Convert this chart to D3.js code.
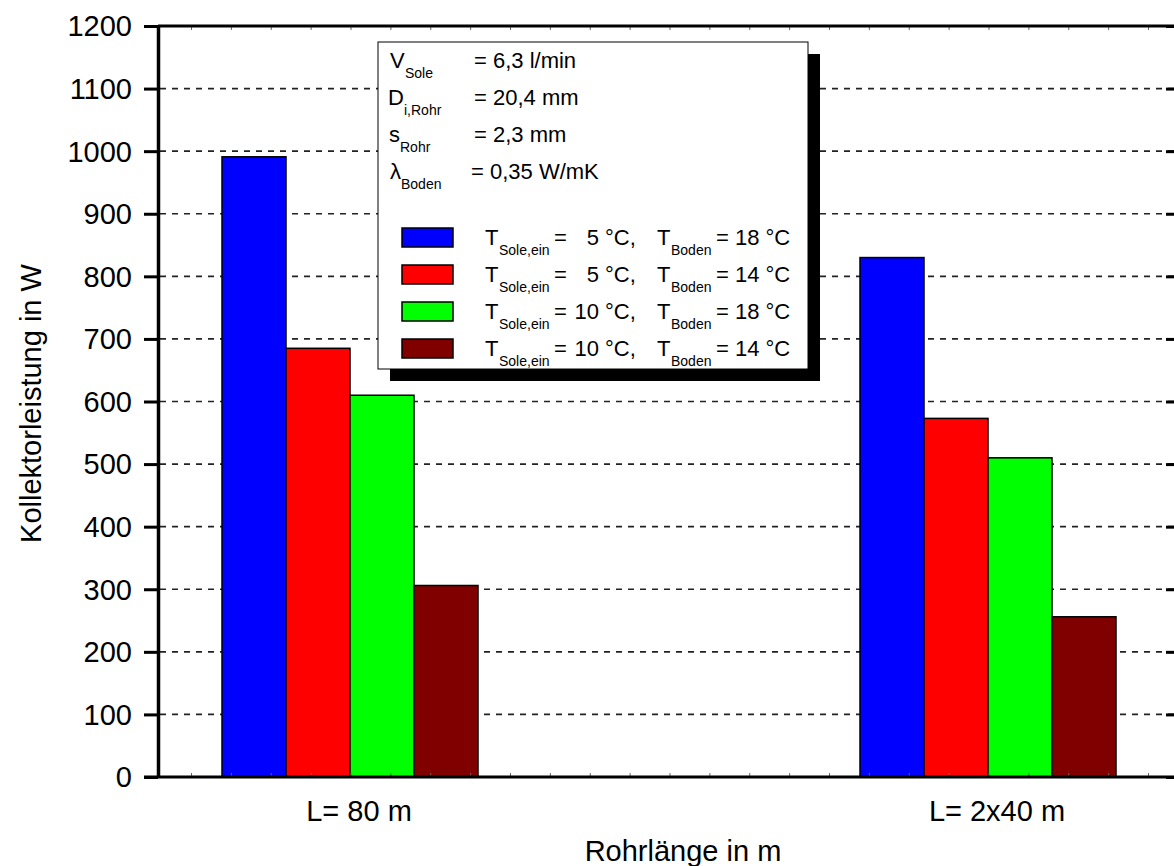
<!DOCTYPE html>
<html>
<head>
<meta charset="utf-8">
<script src="https://cdn.jsdelivr.net/npm/d3@7"></script>
<style>
  html, body { margin: 0; padding: 0; background: #fff; }
  svg { display: block; font-family: "Liberation Sans", Arial, Helvetica, sans-serif; }
</style>
</head>
<body>
<svg id="chart" width="1174" height="866"></svg>
<script>
// ---------------- data ----------------
const categories = ["L= 80 m", "L= 2x40 m"];
const seriesKeys = ["s5_18", "s5_14", "s10_18", "s10_14"];
const seriesColors = ["#0000ff", "#ff0000", "#00ff00", "#800000"];
const tSoleEin = ["5", "5", "10", "10"];
const tBoden = ["18", "14", "18", "14"];
const valuesL80 = [991, 685, 610, 306];
const valuesL2x40 = [830, 573, 510, 256];
const yTickValues = [0, 100, 200, 300, 400, 500, 600, 700, 800, 900, 1000, 1100, 1200];
const gridValues = [100, 200, 300, 400, 500, 600, 700, 800, 900, 1000, 1100];
const paramLabels = [
  { main: "V", sub: "Sole", text: "= 6,3 l/min" },
  { main: "D", sub: "i,Rohr", text: "= 20,4 mm" },
  { main: "s", sub: "Rohr", text: "= 2,3 mm" },
  { main: "\u03BB", sub: "Boden", text: "= 0,35 W/mK" }
];
const yAxisTitle = "Kollektorleistung in W";
const xAxisTitle = "Rohrlänge in m";

const table = categories.map((c, i) => ({
  category: c,
  values: (i === 0 ? valuesL80 : valuesL2x40).map((v, j) => ({ key: seriesKeys[j], value: v, color: seriesColors[j] }))
}));

// ---------------- layout ----------------
const plot = { left: 158, right: 1181, top: 26, bottom: 777 };
const svg = d3.select("#chart");

const y = d3.scaleLinear().domain([0, 1200]).range([plot.bottom, plot.top]);
const groupInset = 192;
const x0 = d3.scalePoint().domain(categories).range([plot.left + groupInset, plot.right - groupInset - 1]);
const x1 = d3.scaleBand().domain(seriesKeys).range([-128, 128]).paddingInner(0);
// faint minor ticks of the category axis (every 1/16 of the group spacing)
const xm = d3.scaleLinear().domain([4, 20]).range([x0(categories[0]) + 1, x0(categories[1]) + 1]);
const minorTicks = d3.range(0, 25);

// ---------------- grid ----------------
svg.append("g").selectAll("line").data(gridValues).join("line")
  .attr("x1", plot.left + 2).attr("x2", plot.right)
  .attr("y1", d => y(d)).attr("y2", d => y(d))
  .attr("stroke", "#222").attr("stroke-width", 1.6)
  .attr("stroke-dasharray", "6,6");

// ---------------- bars ----------------
const groups = svg.append("g").selectAll("g").data(table).join("g")
  .attr("transform", d => `translate(${x0(d.category)},0)`);
groups.selectAll("rect").data(d => d.values).join("rect")
  .attr("x", d => x1(d.key))
  .attr("width", x1.bandwidth())
  .attr("y", d => y(d.value))
  .attr("height", d => y(0) - y(d.value))
  .attr("fill", d => d.color)
  .attr("stroke", "#000").attr("stroke-width", 1.5);

// ---------------- frame / axes ----------------
const frame = svg.append("g");
frame.selectAll("line.mt").data(minorTicks).join("line").attr("class", "mt")
  .attr("x1", d => xm(d)).attr("x2", d => xm(d))
  .attr("y1", plot.top).attr("y2", plot.top + 4)
  .attr("stroke", "#666").attr("stroke-width", 1);
frame.selectAll("line.mb").data(minorTicks).join("line").attr("class", "mb")
  .attr("x1", d => xm(d)).attr("x2", d => xm(d))
  .attr("y1", plot.bottom).attr("y2", plot.bottom - 4)
  .attr("stroke", "#666").attr("stroke-width", 1);

frame.append("line").attr("x1", plot.left).attr("x2", plot.right)
  .attr("y1", plot.top).attr("y2", plot.top).attr("stroke", "#000").attr("stroke-width", 3);
frame.append("line").attr("x1", plot.left - 14).attr("x2", plot.right)
  .attr("y1", plot.bottom).attr("y2", plot.bottom).attr("stroke", "#000").attr("stroke-width", 3);

const leftAxis = svg.append("g")
  .attr("transform", `translate(${plot.left},0)`)
  .call(d3.axisLeft(y).tickValues(yTickValues).tickFormat(d3.format("d"))
    .tickSize(14).tickSizeOuter(0).tickPadding(12));
leftAxis.select(".domain").attr("stroke-width", 3.5);
leftAxis.selectAll(".tick line").attr("stroke-width", 3);
leftAxis.selectAll(".tick text")
  .attr("font-family", "'Liberation Sans', Arial, sans-serif")
  .attr("font-size", 29).attr("fill", "#000").attr("dy", "0.34em");

const rightAxis = svg.append("g")
  .attr("transform", `translate(${plot.right},0)`)
  .call(d3.axisLeft(y).tickValues(yTickValues).tickSize(15).tickSizeOuter(0).tickFormat(""));
rightAxis.select(".domain").attr("stroke-width", 3);
rightAxis.selectAll(".tick line").attr("stroke-width", 3);

// ---------------- category labels ----------------
svg.append("g").selectAll("text").data(categories).join("text")
  .attr("x", d => x0(d) + 9).attr("y", plot.bottom + 44)
  .attr("text-anchor", "middle").attr("font-size", 29).attr("fill", "#000")
  .text(d => d);

// ---------------- axis titles ----------------
svg.append("text")
  .attr("x", 683).attr("y", 861)
  .attr("text-anchor", "middle").attr("font-size", 29).attr("fill", "#000")
  .text(xAxisTitle);
svg.append("text")
  .attr("transform", `translate(41,${(plot.top + plot.bottom) / 2 + 2}) rotate(-90)`)
  .attr("text-anchor", "middle").attr("font-size", 29).attr("fill", "#000")
  .text(yAxisTitle);

// ---------------- legend box ----------------
const lg = svg.append("g");
const box = { x: 378, y: 42, w: 430, h: 327, shadow: 12 };
lg.append("rect").attr("x", box.x + box.shadow).attr("y", box.y + box.shadow)
  .attr("width", box.w).attr("height", box.h).attr("fill", "#000");
lg.append("rect").attr("x", box.x).attr("y", box.y)
  .attr("width", box.w).attr("height", box.h).attr("fill", "#fff")
  .attr("stroke", "#000").attr("stroke-width", 1);

const paramX = [390, 388, 389, 390];
const paramSubX = [405, 404, 400, 401];
const paramEqX = [474, 474, 474, 471];
paramLabels.forEach((p, i) => {
  const by = box.y + 26 + i * 37;
  lg.append("text").attr("x", paramX[i]).attr("y", by).attr("font-size", 22).text(p.main);
  lg.append("text").attr("x", paramSubX[i]).attr("y", by + 10).attr("font-size", 14).text(p.sub);
  lg.append("text").attr("x", paramEqX[i]).attr("y", by).attr("font-size", 22).text(p.text);
});

seriesKeys.forEach((k, i) => {
  const sy = box.y + 186 + i * 37;
  lg.append("rect").attr("x", 402).attr("y", sy).attr("width", 51).attr("height", 19)
    .attr("fill", seriesColors[i]).attr("stroke", "#000").attr("stroke-width", 1.5);
  const by = sy + 17;
  lg.append("text").attr("x", 485).attr("y", by).attr("font-size", 22).text("T");
  lg.append("text").attr("x", 499).attr("y", by + 10).attr("font-size", 14).text("Sole,ein");
  lg.append("text").attr("x", 554).attr("y", by).attr("font-size", 22).text("=");
  lg.append("text").attr("x", 599).attr("y", by).attr("font-size", 22).attr("text-anchor", "end").text(tSoleEin[i]);
  lg.append("text").attr("x", 605).attr("y", by).attr("font-size", 22).text("°C,");
  lg.append("text").attr("x", 657).attr("y", by).attr("font-size", 22).text("T");
  lg.append("text").attr("x", 671).attr("y", by + 10).attr("font-size", 14).text("Boden");
  lg.append("text").attr("x", 716).attr("y", by).attr("font-size", 22).text("= " + tBoden[i] + " °C");
});
</script>
</body>
</html>
